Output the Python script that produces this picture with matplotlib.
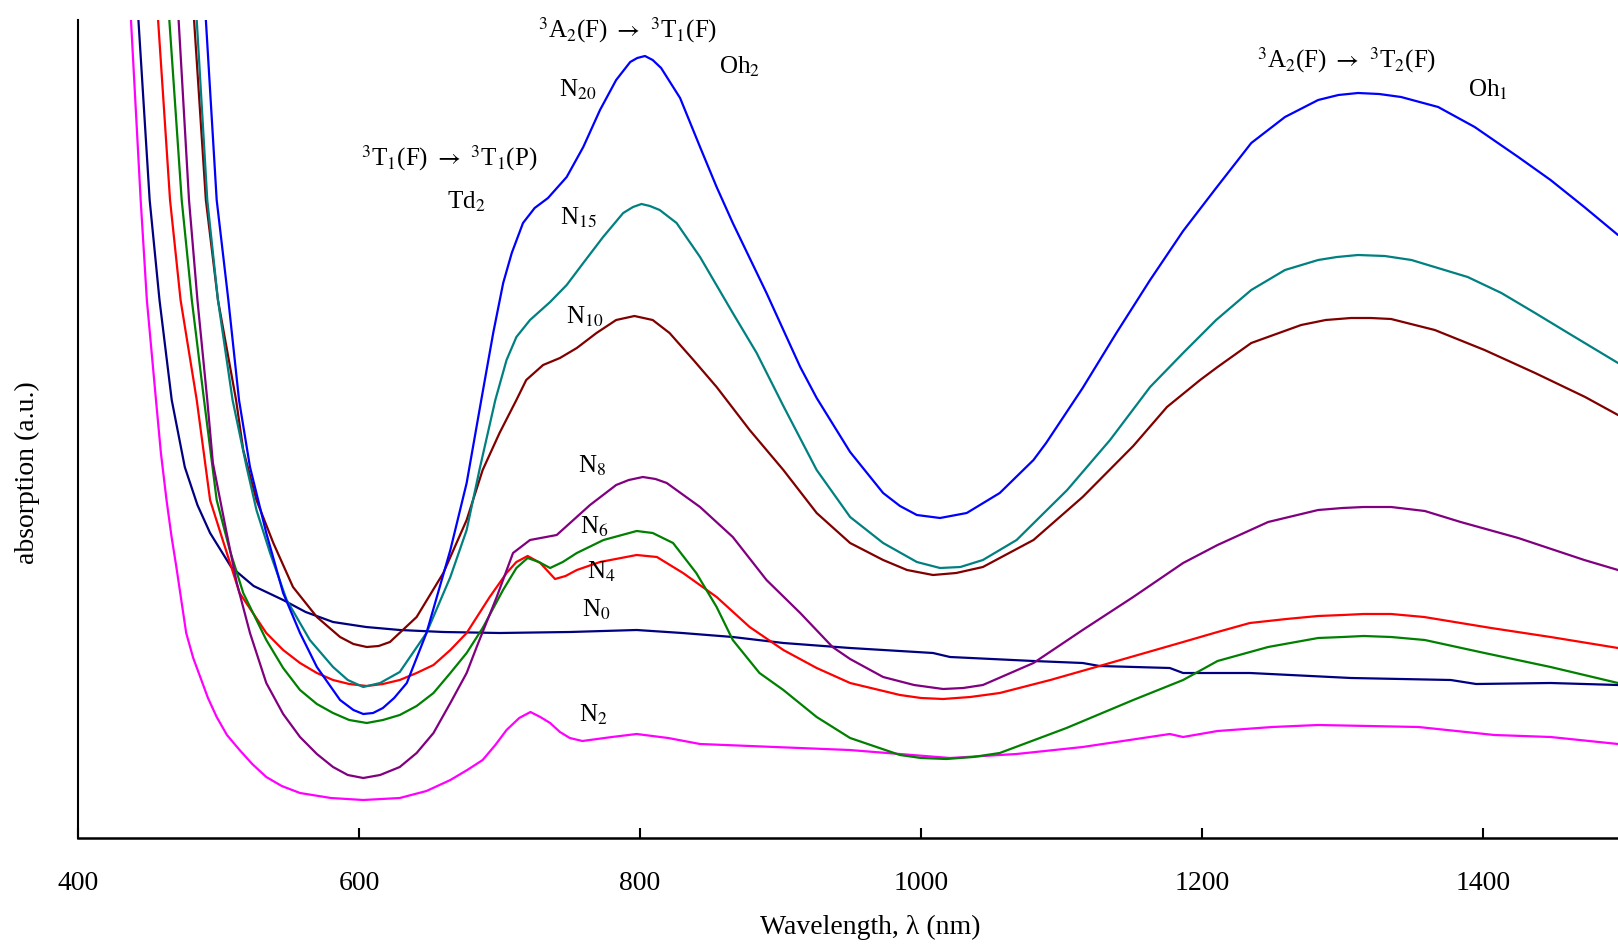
import matplotlib
matplotlib.use("Agg")
import matplotlib.pyplot as plt

plt.rcParams['font.family'] = ['Liberation Serif', 'DejaVu Serif']
plt.rcParams['mathtext.fontset'] = 'stix'

# ---- data (wavelength nm, absorption a.u.) ----
n20_x = [491, 498.7, 507, 514.6, 522.4, 534, 546, 558, 570, 586.5, 596, 603, 610, 617, 625, 634,
         648, 665, 676.6, 687, 695.5, 702.6, 708.7, 716.7, 725, 734.5, 747.8, 759.6, 771.5, 783,
         793, 798, 803.5, 809, 815, 828.5, 842.7, 854.5, 866, 890, 914, 925.7, 949.5, 973, 985,
         997, 1013.5, 1032.5, 1056, 1080, 1089, 1115, 1139, 1163, 1186.5, 1210, 1235, 1259,
         1282.6, 1297, 1311, 1326, 1341.6, 1368, 1394, 1425, 1448, 1472, 1496]
n20_y = [818, 638, 538, 438, 371, 305, 245, 205, 171, 138, 128, 124, 125, 130, 140, 155,
         205, 288, 355, 438, 505, 555, 585, 615, 630, 640, 661, 691, 728, 758,
         776, 780, 782, 778, 770, 740, 691, 651, 615, 545, 471, 440, 386, 345, 332,
         323, 320, 325, 345, 378, 395, 450, 505, 558, 607, 650, 695, 721,
         738, 743, 745, 744, 741, 731, 711, 681, 658, 631, 603]

n15_x = [484.5, 492, 499.6, 510, 520, 527, 536.7, 548.5, 565, 581.5, 592, 603, 615, 629, 648, 665,
         676.6, 686, 697, 705, 712, 721.7, 736, 747.8, 759.6, 773.7, 788, 795, 801, 807, 814, 826,
         842.7, 866, 883, 902, 925.7, 949.5, 973, 997, 1013.5, 1028, 1044, 1068, 1104, 1134.5,
         1163, 1186.5, 1210, 1235, 1259, 1282.6, 1296, 1311, 1330, 1349, 1389, 1413, 1437,
         1460.5, 1496]
n15_y = [818, 638, 538, 438, 371, 328, 285, 238, 198, 171, 158, 151, 155, 166, 205, 261,
         308, 370, 438, 478, 501, 518, 536, 553, 575, 601, 625, 631, 634, 632, 628, 615,
         581, 525, 485, 432, 368, 321, 295, 276, 270, 271, 278, 298, 348, 398,
         451, 485, 518, 548, 568, 578, 581, 583, 582, 578, 561, 545, 525,
         505, 475]

n10_x = [482.6, 491, 499.6, 512.5, 517.6, 527, 539, 553, 570, 586.5, 596, 605.5, 614, 622, 641,
         660, 676.6, 688, 700, 712, 719, 731, 743, 755, 769, 783, 796, 809, 821, 838, 854.5, 878,
         902, 925.7, 949.5, 973, 990, 1008.5, 1025, 1044, 1080, 1115, 1151, 1175, 1198.6, 1211,
         1235, 1270.5, 1288, 1306, 1320, 1334.5, 1365.6, 1401, 1437, 1472.6, 1496]
n10_y = [818, 638, 538, 438, 388, 338, 295, 251, 221, 201, 194, 191, 192, 196, 221,
         265, 318, 368, 405, 438, 458, 473, 480, 490, 505, 518, 522, 518, 505, 478, 451, 408,
         368, 325, 295, 278, 268, 263, 265, 271, 298, 341, 392, 431, 458, 471,
         495, 513, 518, 520, 520, 519, 508, 488, 465, 441, 423]

n8_x = [471.6, 479, 485, 492, 496, 505.8, 513, 522.4, 534, 546, 558, 570, 581.5, 592, 603, 615,
        629, 641, 653, 665, 676.6, 684, 698, 709.6, 721.7, 740.7, 764.4, 783, 792, 802, 811, 819,
        842.7, 866, 890, 914, 937, 949.5, 973, 995, 1015.7, 1030, 1044, 1080, 1115, 1151, 1186.5,
        1211, 1247, 1282.6, 1300, 1315, 1334.5, 1358.5, 1384, 1425, 1472, 1496]
n8_y = [818, 638, 538, 438, 375, 305, 255, 205, 155, 124, 101, 84, 71, 63, 60, 63,
        71, 85, 105, 135, 165, 192, 241, 285, 298, 303, 333, 353, 358, 361, 359, 355,
        331, 301, 258, 225, 191, 179, 161, 153, 149, 150, 153, 175, 208, 241, 275,
        293, 316, 328, 330, 331, 331, 327, 316, 300, 278, 268]

n6_x = [465, 473.8, 481, 489.7, 498.7, 508, 517.6, 534, 546, 558, 570, 581.5, 593, 605.5, 617,
        629, 641, 653, 665, 676.6, 688, 702.5, 712, 720, 728, 736, 745, 755, 774, 797.6, 809,
        823.5, 840, 854.5, 866, 885, 902, 925.7, 949.5, 985, 1000, 1018, 1037, 1056, 1103.5,
        1151, 1186.5, 1211, 1247, 1282.6, 1300, 1315, 1334.5, 1358.5, 1401, 1448, 1496]
n6_y = [818, 638, 538, 438, 338, 288, 245, 198, 170, 148, 134, 125, 118, 115, 118,
        123, 132, 145, 165, 185, 210, 248, 270, 280, 276, 270, 276, 285, 298, 307, 305,
        295, 265, 231, 198, 165, 148, 121, 100, 83, 80, 79, 81, 85, 110,
        138, 158, 177, 191, 200, 201, 202, 201, 198, 185, 171, 155]

n4_x = [457, 465.5, 473, 484.5, 494, 503, 515, 534, 546, 558, 570, 581.5, 593, 605.5, 617, 629,
        641, 653, 665, 676.6, 693, 705, 712, 720, 729, 739.5, 747, 755, 771.5, 797.6, 812,
        830.6, 854.5, 878, 902, 925.7, 949.5, 985, 1000, 1015.7, 1035, 1056, 1092, 1129.5,
        1186.5, 1211, 1234, 1260, 1282.6, 1300, 1315, 1334.5, 1358, 1405.7, 1448, 1496]
n4_y = [818, 638, 538, 438, 338, 298, 245, 205, 188, 175, 165, 158, 154, 152, 154, 158,
        165, 173, 188, 205, 241, 265, 276, 282, 275, 259, 262, 268, 276, 283, 281,
        265, 241, 211, 188, 170, 155, 143, 140, 139, 141, 145, 158, 173,
        196, 206, 215, 219, 222, 223, 224, 224, 221, 210, 201, 190]

n0_x = [443, 451, 458, 466.7, 476, 485, 494, 509, 525, 546, 562, 581.5, 605, 629, 660, 700, 750,
        797.6, 830, 866, 902, 949.5, 1008.5, 1020.6, 1080, 1115, 1127, 1177, 1186.5, 1234, 1306,
        1377, 1395, 1448, 1496]
n0_y = [818, 638, 538, 438, 371, 333, 305, 271, 252, 238, 226, 216, 211, 208, 206, 205, 206,
        208, 205, 201, 195, 190, 185, 181, 177, 175, 172, 170, 165, 165, 160,
        158, 154, 155, 153]

n2_x = [437.7, 444.6, 449, 455.5, 459, 463, 466.5, 470, 473.5, 477, 482, 487, 492.5, 498.7, 506,
        515, 524, 534, 545, 558, 580, 603, 629, 648, 665, 677, 688, 697, 705, 714, 722, 729, 736,
        743, 750, 759, 780, 797.6, 820, 842.7, 949, 1020.6, 1068, 1115, 1177, 1186.5, 1211, 1250,
        1282.6, 1354, 1408, 1448, 1496]
n2_y = [818, 638, 538, 438, 385, 338, 302, 271, 238, 205, 180, 161, 140, 121, 103,
        88, 74, 61, 52, 45, 40, 38, 40, 47, 58, 68, 78, 93, 108, 120, 126, 121, 115,
        106, 100, 97, 101, 104, 100, 94, 88, 80, 84, 91, 104, 101, 107, 111,
        113, 111, 103, 101, 94]

series = [
    (n2_x, n2_y, '#FF00FF'),
    (n0_x, n0_y, '#000080'),
    (n4_x, n4_y, '#FF0000'),
    (n6_x, n6_y, '#008000'),
    (n8_x, n8_y, '#800080'),
    (n10_x, n10_y, '#800000'),
    (n15_x, n15_y, '#008080'),
    (n20_x, n20_y, '#0000FF'),
]

xticks = [400, 600, 800, 1000, 1200, 1400]

W, H = 1618, 944
fig = plt.figure(figsize=(W / 100, H / 100), dpi=100)
ax = fig.add_axes([78 / W, 1 - 838 / H, 1 - 78 / W, (838 - 20) / H])

for xs, ys, c in series:
    ax.plot(xs, ys, color=c, lw=1.6, solid_joinstyle='round', solid_capstyle='round')

ax.set_xlim(400, 1496)
ax.set_ylim(0, 818)
ax.set_yticks([])
ax.set_xticks(xticks)
ax.set_xticklabels([str(t) for t in xticks], fontsize=20)
ax.tick_params(axis='x', direction='in', length=7, width=1.5, pad=24)
for s in ['top', 'right']:
    ax.spines[s].set_visible(False)
ax.spines['bottom'].set_linewidth(1.8)
ax.spines['left'].set_linewidth(1.5)

fig.text(870 / W, 1 - 927 / H, 'Wavelength, \u03bb (nm)', ha='center', va='center', fontsize=20)
fig.text(27 / W, 1 - 473 / H, 'absorption (a.u.)', ha='center', va='center', rotation=90, fontsize=20)

def ftext(x, y, s, size=18):
    fig.text(x / W, 1 - y / H, s, ha='center', va='center', fontsize=size)

ftext(628, 30, r'$^3$A$_2$(F) $\rightarrow$ $^3$T$_1$(F)')
ftext(740, 67, r'Oh$_2$')
ftext(578, 90, r'N$_{20}$')
ftext(449, 158, r'$^3$T$_1$(F) $\rightarrow$ $^3$T$_1$(P)')
ftext(466, 202, r'Td$_2$')
ftext(578, 218, r'N$_{15}$')
ftext(585, 317, r'N$_{10}$')
ftext(592, 466, r'N$_8$')
ftext(594, 527, r'N$_6$')
ftext(601, 572, r'N$_4$')
ftext(596, 610, r'N$_0$')
ftext(593, 715, r'N$_2$')
ftext(1347, 60, r'$^3$A$_2$(F) $\rightarrow$ $^3$T$_2$(F)')
ftext(1488, 90, r'Oh$_1$')

fig.savefig('out.png', dpi=100)
